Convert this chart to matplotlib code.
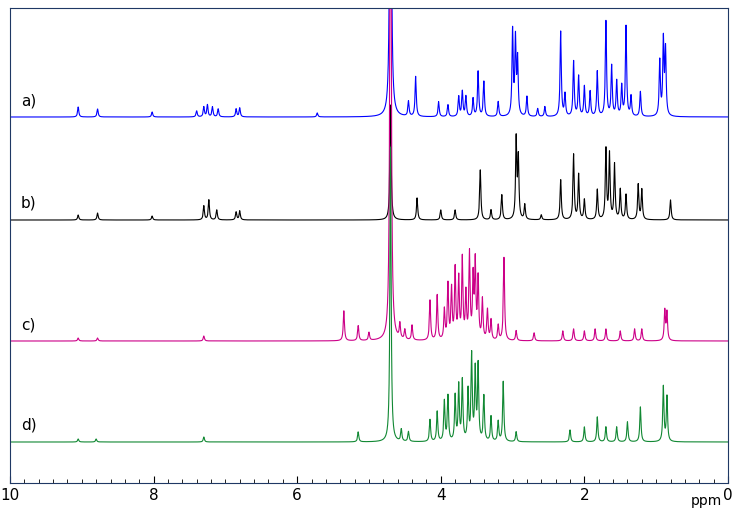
import numpy as np
import matplotlib
matplotlib.use("Agg")
import matplotlib.pyplot as plt

labels = ["a)", "b)", "c)", "d)"]
colors = ["#0000ff", "#000000", "#cc0088", "#118833"]
offsets = [366, 263, 142, 41]

pos_a = [9.05,8.78,8.02,7.4,7.3,7.25,7.18,7.1,6.85,6.8,5.72,4.7,4.45,4.35,4.03,3.9,3.75,3.7,3.65,3.55,3.48,3.4,3.2,3.0,2.96,2.93,2.8,2.65,2.55,2.33,2.27,2.15,2.08,2.0,1.92,1.82,1.7,1.62,1.55,1.48,1.42,1.35,1.22,0.95,0.9,0.87]
hgt_a = [10,8,5,6,10,12,10,8,8,9,4,600,15,40,15,12,20,25,20,18,45,35,15,85,75,55,20,8,10,85,22,55,40,30,25,45,95,50,35,30,90,20,25,55,75,65]
pos_b = [9.05,8.78,8.02,7.3,7.23,7.12,6.85,6.8,4.7,4.33,4.0,3.8,3.45,3.3,3.15,2.95,2.92,2.83,2.6,2.33,2.15,2.08,2.0,1.82,1.7,1.65,1.58,1.5,1.42,1.25,1.2,0.8]
hgt_b = [5,7,4,14,20,10,8,9,115,22,10,10,50,10,25,80,60,15,5,40,65,45,20,30,70,65,55,30,25,35,30,20]
pos_c = [9.05,8.78,7.3,5.35,5.15,5.0,4.7,4.57,4.5,4.4,4.15,4.05,3.95,3.9,3.85,3.8,3.75,3.7,3.65,3.6,3.55,3.52,3.48,3.42,3.35,3.3,3.2,3.12,2.95,2.7,2.3,2.15,2.0,1.85,1.7,1.5,1.3,1.2,0.88,0.85]
hgt_c = [3,3,5,30,15,8,700,15,10,15,40,45,30,55,50,70,60,80,45,85,60,75,60,40,30,20,15,83,10,8,10,12,10,12,12,10,12,12,30,28]
pos_d = [9.05,8.8,7.3,5.15,4.7,4.55,4.45,4.15,4.05,3.95,3.9,3.8,3.75,3.7,3.62,3.57,3.52,3.48,3.4,3.3,3.2,3.13,2.95,2.2,2.0,1.82,1.7,1.55,1.4,1.22,0.9,0.85]
hgt_d = [3,3,5,10,295,12,10,22,30,40,45,45,55,60,50,85,70,75,45,25,20,60,10,12,15,25,15,15,20,35,55,45]

series = [(pos_a, hgt_a), (pos_b, hgt_b), (pos_c, hgt_c), (pos_d, hgt_d)]
x = np.linspace(0.0, 10, 20000)
w = 0.01

fig = plt.figure(figsize=(7.36, 5.18), dpi=100)
ax = fig.add_axes([10/736, 35/518, 718/736, 475/518])
for (p, h), off, c, lab in zip(series, offsets, colors, labels):
    y = np.zeros_like(x)
    for pi, hi in zip(p, h):
        y += hi * w**2 / ((x - pi)**2 + w**2)
    ax.plot(x, y + off, color=c, lw=0.8)
    ax.text(9.85, off + 12, lab, fontsize=11)
ax.set_xlim(10, 0)
ax.set_ylim(0, 475)
ax.set_yticks([])
ax.set_xticks([10, 8, 6, 4, 2, 0])
ax.set_xticks(np.arange(0, 10.01, 0.2), minor=True)
ax.tick_params(axis="x", labelsize=11, direction="in", length=5)
ax.tick_params(axis="x", which="minor", direction="in", length=3)
ax.text(0.52, -22, "ppm", fontsize=10)
for s in ax.spines.values():
    s.set_color("#1f3864")
fig.savefig("out.png")
